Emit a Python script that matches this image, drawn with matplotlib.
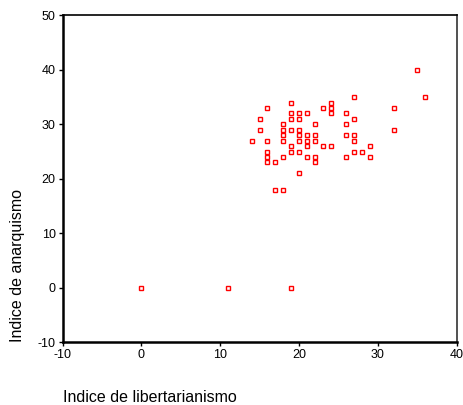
import matplotlib
matplotlib.use("Agg")
import matplotlib.pyplot as plt

# libertarianism index (x) and anarchism index (y)
libert = [35,
          27, 36,
          19, 24,
          16, 23, 24, 32,
          19, 20, 21, 24, 26,
          15, 19, 20, 27,
          18, 22, 26,
          15, 18, 19, 20, 32,
          18, 20, 21, 22, 26, 27,
          14, 16, 18, 20, 21, 22, 27,
          19, 21, 23, 24, 29,
          16, 19, 20, 27, 28,
          16, 18, 21, 22, 26, 29,
          16, 17, 22,
          20,
          17, 18,
          0, 11, 19]
anarq = [40,
         35, 35,
         34, 34,
         33, 33, 33, 33,
         32, 32, 32, 32, 32,
         31, 31, 31, 31,
         30, 30, 30,
         29, 29, 29, 29, 29,
         28, 28, 28, 28, 28, 28,
         27, 27, 27, 27, 27, 27, 27,
         26, 26, 26, 26, 26,
         25, 25, 25, 25, 25,
         24, 24, 24, 24, 24, 24,
         23, 23, 23,
         21,
         18, 18,
         0, 0, 0]

xticks = [-10, 0, 10, 20, 30, 40]
yticks = [-10, 0, 10, 20, 30, 40, 50]

plt.rcParams['font.family'] = ['Liberation Sans', 'DejaVu Sans']
plt.rcParams['axes.unicode_minus'] = False

fig = plt.figure(figsize=(4.64, 4.05), dpi=100)
ax = fig.add_axes([0.135, 0.155, 0.849, 0.807])

ax.plot(libert, anarq, 's', ms=3.2, mfc='white', mec='#ff0000', mew=1.0, ls='none')

ax.set_xlim(-10, 40)
ax.set_ylim(-10, 50)
ax.set_xticks(xticks)
ax.set_yticks(yticks)
ax.tick_params(direction='out', length=3, width=1, labelsize=9, pad=2)

ax.spines['left'].set_linewidth(1.8)
ax.spines['bottom'].set_linewidth(1.8)
ax.spines['top'].set_linewidth(1.2)
ax.spines['right'].set_linewidth(1.2)
ax.spines['right'].set_color('#333333')

fig.text(63/464, 1-397/405, 'Indice de libertarianismo', fontsize=11.5, ha='left', va='center')
fig.text(18/464, 1-265/405, 'Indice de anarquismo', fontsize=11.5, rotation=90, ha='center', va='center')

fig.savefig('out.png', dpi=100)
